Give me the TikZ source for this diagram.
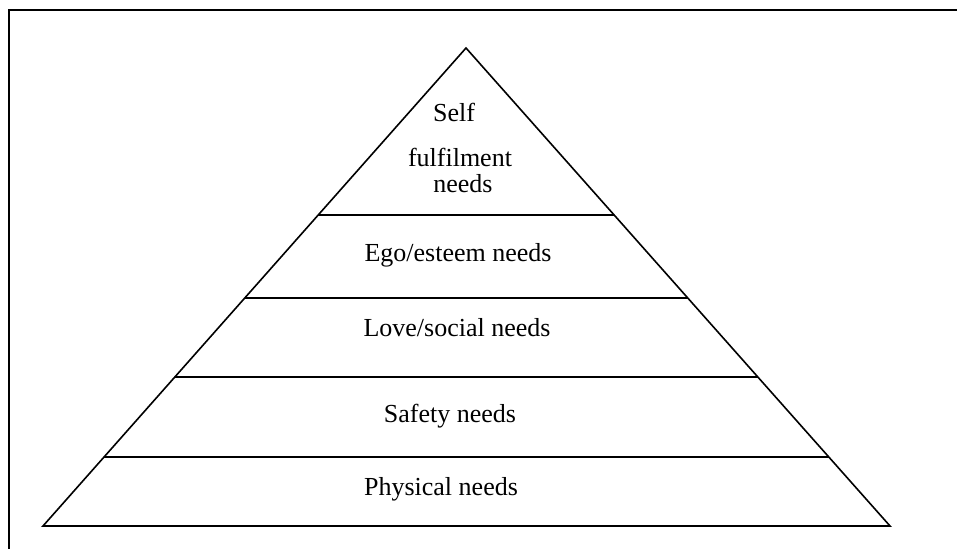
\documentclass[tikz,border=0pt]{standalone}
\usepackage{fontspec}
\setmainfont{Liberation Serif}
\usetikzlibrary{calc}
\tikzset{
tier/.style = {line width=0.8pt},
label/.style = {inner sep=0pt, font=\fontsize{13}{15}\selectfont},
frame/.style = {line width=1.2pt}
}

\begin{document}
\begin{tikzpicture}[x=0.5pt,y=-0.5pt]
      \useasboundingbox (0,0) rectangle (957,549);
      \draw [frame] (9,549) -- (9,10) -- (957,10);
      % pyramid corners
      \coordinate (top) at (466,48);
      \coordinate (bl) at (43,526);
      \coordinate (br) at (890,526);
      \draw [tier] (bl) -- (top) -- (br) -- cycle;
      \foreach \t in {0.144,0.312,0.477,0.651}
        \draw [tier] ($(bl)!\t!(top)$) -- ($(br)!\t!(top)$);
      % tier texts
      \node [label] (self) at (454,112) {Self};
      \node [label] (fulfil) at (460,157) {fulfilment};
      \node [label] (needs) at (463,184) {needs};
      \node [label] (ego) at (458,255) {Ego/esteem needs};
      \node [label] (love) at (457,328) {Love/social needs};
      \node [label] (safety) at (450,416) {Safety needs};
      \node [label] (physical) at (441,489) {Physical needs};
\end{tikzpicture}
\end{document}
